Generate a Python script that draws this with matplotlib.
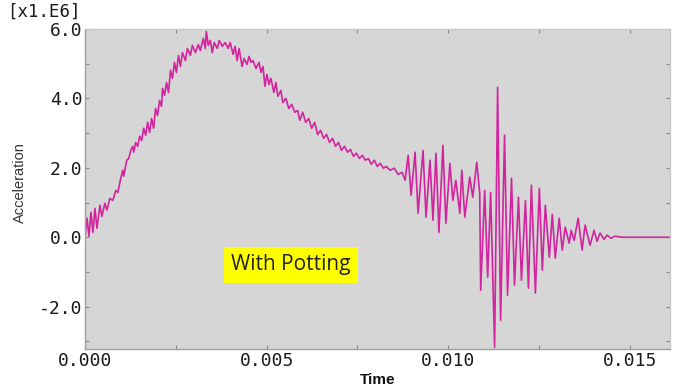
import numpy as np
import matplotlib.pyplot as plt
from matplotlib.ticker import MultipleLocator

# time in ms, acceleration in 1e6 units
time_ms = [
    0.000, 0.055, 0.109, 0.164, 0.219, 0.274, 0.328, 0.411, 0.465, 0.547,
    0.602, 0.684, 0.766, 0.848, 0.903, 0.985, 1.040, 1.067, 1.150, 1.204,
    1.259, 1.314, 1.341, 1.396, 1.451, 1.505, 1.560, 1.615, 1.670, 1.724,
    1.779, 1.834, 1.889, 1.943, 1.998, 2.053, 2.107, 2.135, 2.190, 2.244,
    2.299, 2.354, 2.409, 2.463, 2.518, 2.573, 2.628, 2.682, 2.764, 2.819,
    2.901, 2.956, 3.038, 3.120, 3.175, 3.257, 3.312, 3.339, 3.394, 3.449,
    3.503, 3.558, 3.640, 3.695, 3.777, 3.859, 3.941, 3.996, 4.078, 4.133,
    4.188, 4.242, 4.324, 4.379, 4.461, 4.516, 4.571, 4.626, 4.708, 4.790,
    4.845, 4.899, 4.954, 5.009, 5.063, 5.118, 5.200, 5.255, 5.310, 5.392,
    5.447, 5.529, 5.611, 5.693, 5.775, 5.857, 5.912, 5.994, 6.076, 6.158,
    6.240, 6.322, 6.405, 6.487, 6.569, 6.651, 6.733, 6.815, 6.897, 6.979,
    7.061, 7.144, 7.226, 7.308, 7.390, 7.472, 7.554, 7.636, 7.718, 7.800,
    7.883, 7.965, 8.047, 8.129, 8.211, 8.293, 8.403, 8.512, 8.622, 8.731,
    8.813,
    8.896, 8.977, 9.087, 9.169, 9.306, 9.388, 9.497, 9.580, 9.662, 9.744,
    9.853, 9.935, 10.045, 10.127, 10.209, 10.318, 10.373, 10.455, 10.592, 10.674,
    10.784, 10.866, 10.893, 11.003, 11.085, 11.167, 11.276, 11.359, 11.441, 11.550,
    11.632, 11.742, 11.824, 11.933, 12.015, 12.125, 12.207, 12.289, 12.399, 12.508,
    12.590, 12.672, 12.782, 12.864, 12.946, 13.055, 13.138, 13.220, 13.329, 13.384,
    13.466, 13.576, 13.685, 13.767, 13.904, 14.014, 14.096, 14.178, 14.287, 14.370,
    14.479, 14.588, 14.780, 16.090,
]
accel = [
    0.00, 0.55, 0.03, 0.72, 0.14, 0.83, 0.26, 0.92, 0.60, 0.98,
    0.78, 1.12, 1.06, 1.35, 1.29, 1.70, 1.93, 1.76, 2.22, 2.27,
    2.50, 2.62, 2.45, 2.73, 2.62, 2.91, 2.79, 3.14, 2.94, 3.31,
    3.02, 3.42, 3.14, 3.71, 3.51, 3.94, 3.77, 4.29, 4.09, 4.46,
    4.17, 4.81, 4.58, 5.04, 4.75, 5.24, 4.92, 5.32, 5.09, 5.44,
    5.24, 5.53, 5.32, 5.55, 5.38, 5.73, 5.44, 5.93, 5.53, 5.67,
    5.32, 5.61, 5.44, 5.67, 5.50, 5.61, 5.44, 5.61, 5.27, 5.50,
    5.09, 5.44, 4.92, 5.15, 4.98, 5.21, 5.04, 5.09, 4.86, 5.04,
    4.75, 4.92, 4.35, 4.69, 4.40, 4.58, 4.17, 4.46, 4.06, 4.23,
    3.88, 4.00, 3.71, 3.83, 3.60, 3.65, 3.37, 3.60, 3.31, 3.42,
    3.14, 3.31, 2.96, 3.08, 2.85, 2.96, 2.73, 2.85, 2.62, 2.73,
    2.50, 2.62, 2.45, 2.53, 2.33, 2.42, 2.27, 2.36, 2.22, 2.27,
    2.10, 2.22, 2.04, 2.13, 1.99, 2.04, 1.93, 1.99, 1.81, 1.87,
    1.64,
    2.36, 1.21, 2.45, 0.69, 2.50, 0.58, 2.22, 0.49, 2.42, 0.14,
    2.65, 0.40, 2.13, 1.06, 1.64, 0.69, 1.93, 0.58, 1.73, 1.15,
    2.16, 1.27, -1.53, 1.35, -1.15, 1.29, -3.17, 4.32, -2.39, 2.94,
    -1.67, 1.70, -1.38, 1.15, -1.24, 1.06, -1.47, 1.50, -1.61, 1.41,
    -0.95, 0.92, -0.58, 0.66, -0.60, 0.55, -0.37, 0.29, -0.17, 0.20,
    -0.09, 0.55, -0.37, 0.35, -0.23, 0.20, -0.12, 0.12, -0.06, 0.06,
    -0.03, 0.03, 0.00, 0.00,
]

x_ticks = [0.000, 0.005, 0.010, 0.015]
y_ticks = [-2.0, 0.0, 2.0, 4.0, 6.0]

t = np.array(time_ms) / 1000.0
a = np.array(accel)

fig = plt.figure(figsize=(6.73, 3.86), dpi=100)
ax = fig.add_axes([0.1263, 0.0959, 0.869, 0.829])
ax.set_facecolor('#d6d6d6')

ax.plot(t, a, color='#d2249f', lw=1.2)

ax.set_xlim(0, 0.0161)
ax.set_ylim(-3.22, 6.0)
ax.set_xticks(x_ticks)
ax.set_xticklabels(['%.3f' % v for v in x_ticks])
ax.set_yticks(y_ticks)
ax.set_yticklabels(['%.1f' % v for v in y_ticks])
ax.xaxis.set_minor_locator(MultipleLocator(0.0025))
ax.yaxis.set_minor_locator(MultipleLocator(1.0))
ax.tick_params(which='both', direction='in', top=True, right=True,
               color='#888888', length=3, width=0.8)
ax.tick_params(which='major', labelsize=13, labelcolor='#1a1a1a', pad=2)
for lab in ax.get_xticklabels() + ax.get_yticklabels():
    lab.set_family('DejaVu Sans Mono')
for s in ax.spines.values():
    s.set_color('#a0a0a0')
    s.set_linewidth(1.0)
ax.spines['top'].set_color('#c8c8c8')
ax.spines['right'].set_color('#c8c8c8')

ax.set_xlabel('Time', fontsize=11, fontweight='bold', family='Liberation Sans',
              color='#111111', labelpad=2)
ax.set_ylabel('Acceleration', fontsize=10.5, family='Liberation Sans',
              color='#333333')
ax.yaxis.set_label_coords(-0.10, 0.52)

fig.text(0.010, 0.945, '[x1.E6]', fontsize=12.5, family='DejaVu Sans Mono',
         color='#1a1a1a', va='bottom')

ax.text(0.00402, -0.80, 'With Potting', fontsize=15, family='Open Sans',
        color='#222222', ha='left', va='center',
        bbox=dict(boxstyle='square,pad=0.35', fc='#ffff00', ec='none'))

fig.savefig('out.png', dpi=100)
